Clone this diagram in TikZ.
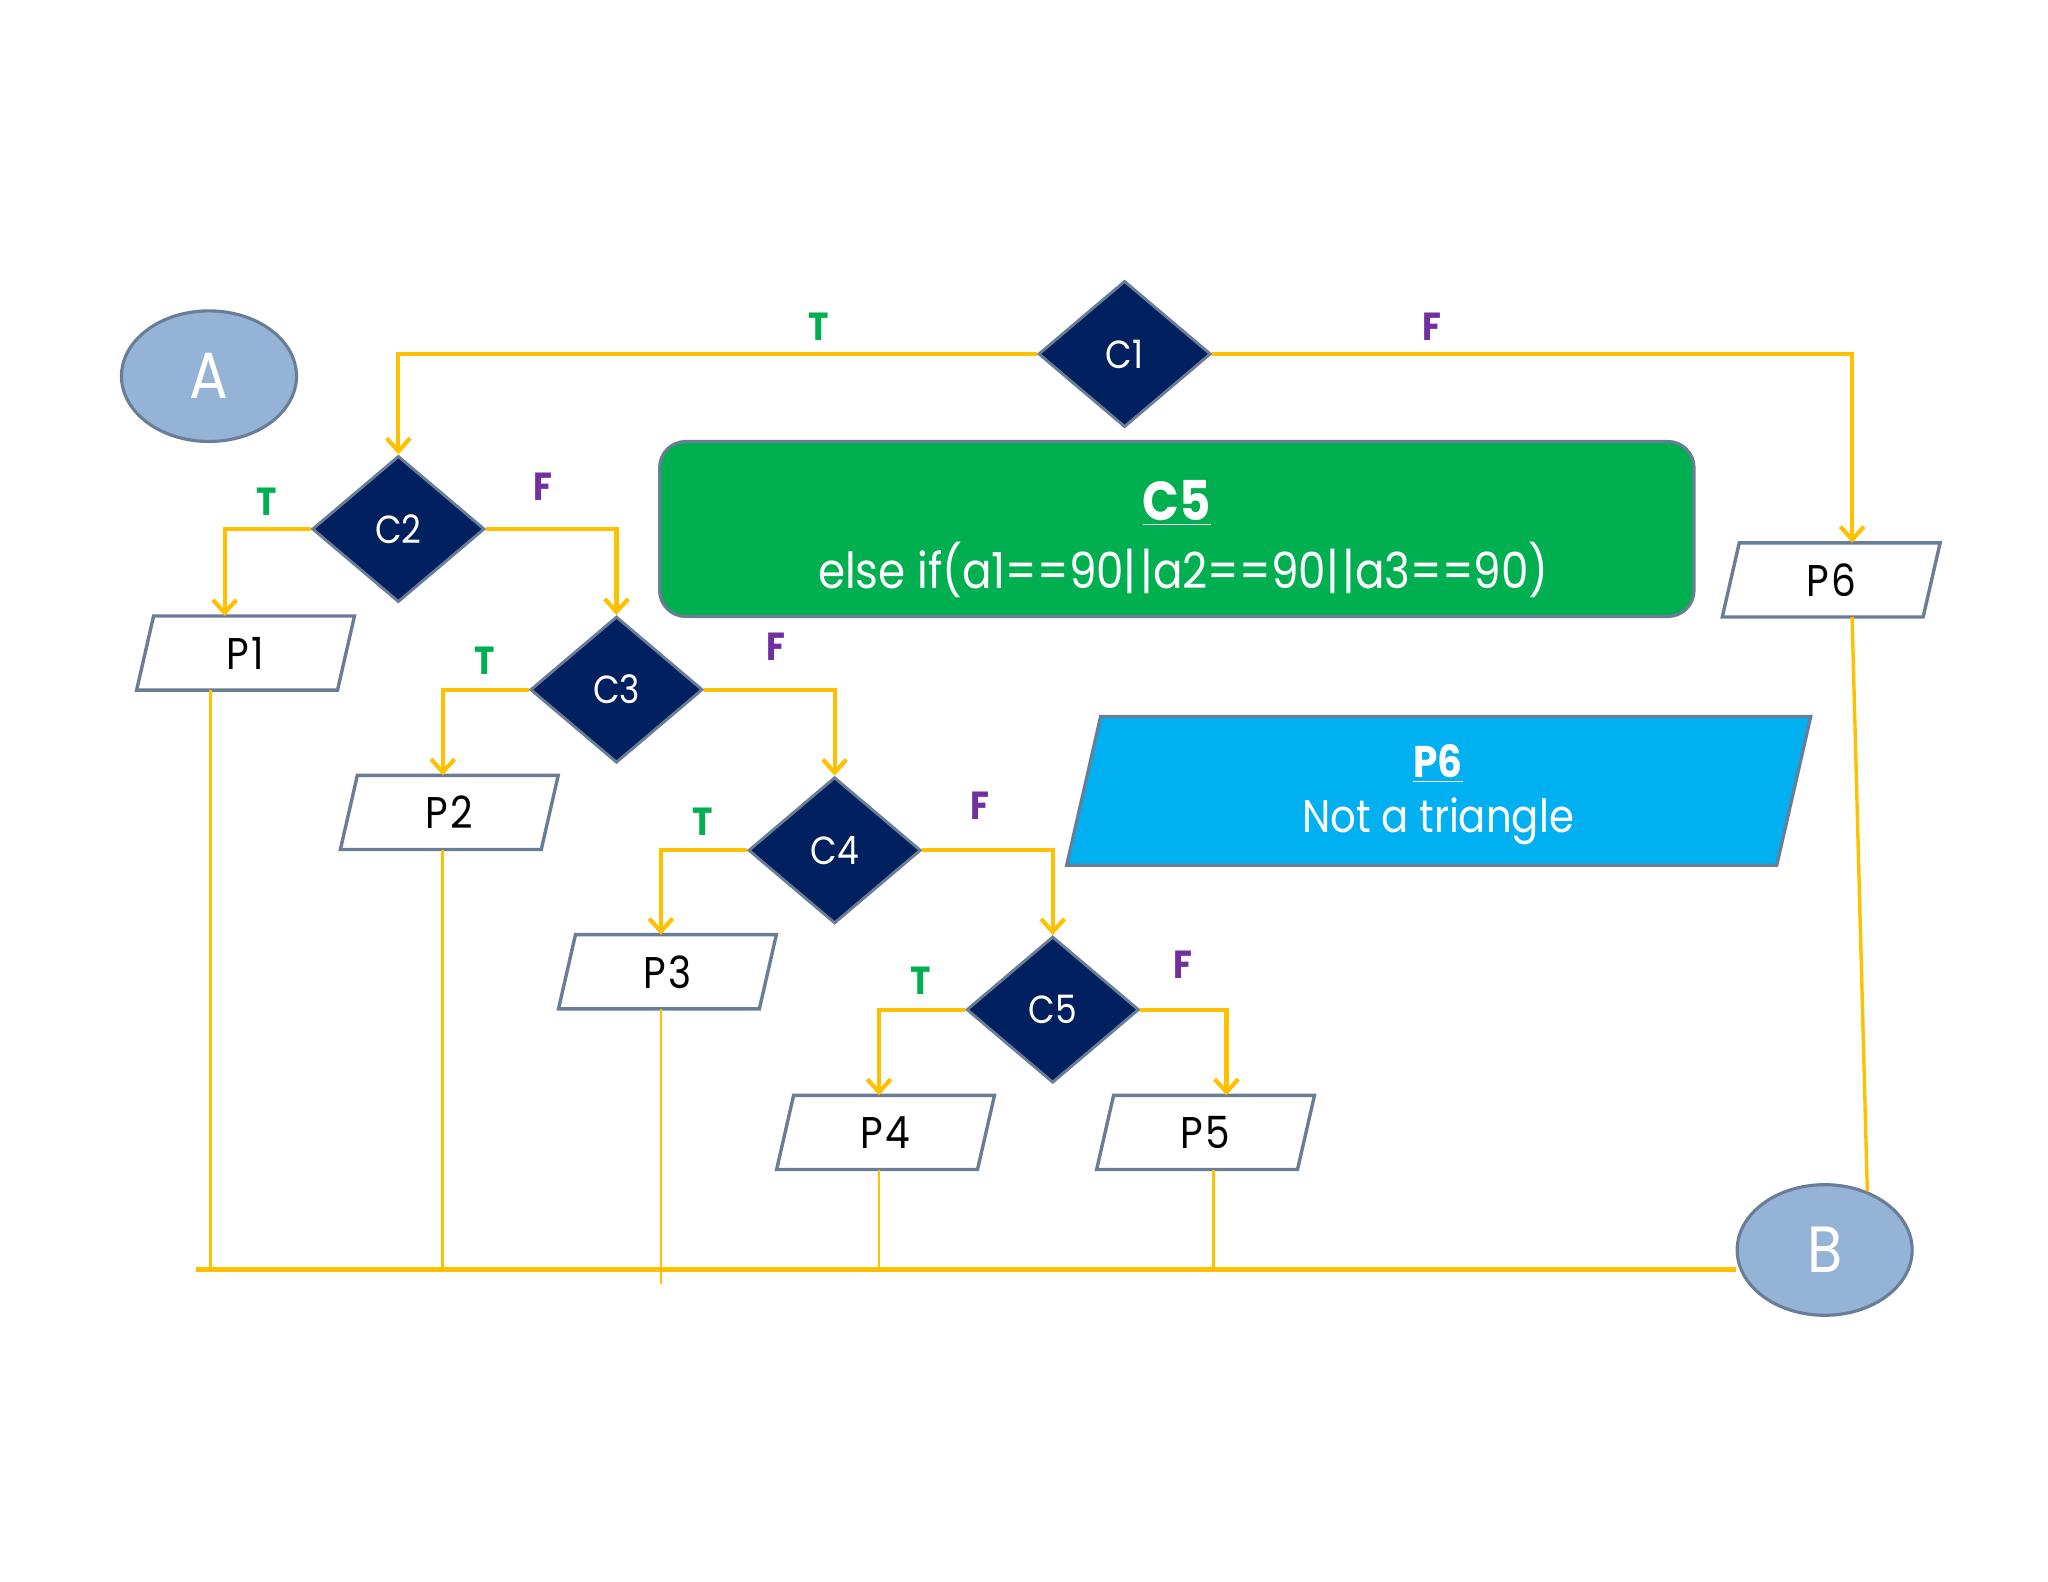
\documentclass[tikz,border=0pt]{standalone}
\usepackage{fontspec}
\setmainfont{Poppins}[FakeStretch=0.88]
\usetikzlibrary{shapes.geometric,arrows.meta}
\definecolor{gold}{HTML}{FFC000}
\definecolor{navy}{HTML}{002060}
\definecolor{edge}{HTML}{6A7D96}
\definecolor{bub}{HTML}{95B3D7}
\definecolor{tgreen}{HTML}{00B050}
\definecolor{fpurple}{HTML}{7030A0}
\definecolor{boxgreen}{HTML}{00B050}
\definecolor{boxblue}{HTML}{00B0F0}
\newcommand{\orbar}{|\kern1.5pt|}
\newcommand{\parashape}[3]{% node name, slant offset, style
  \path[#3] ([xshift=#2]#1.north west) -- (#1.north east) -- ([xshift=-#2]#1.south east) -- (#1.south west) -- cycle;}
\begin{document}
\begin{tikzpicture}[x=0.5pt,y=-0.5pt,
  dec/.style={diamond, fill=navy, draw=edge, line width=1.1pt, minimum width=66pt, minimum height=56pt, inner sep=0pt, text=white, font=\fontsize{15}{15}\selectfont},
  pbox/.style={rectangle, inner sep=0pt, minimum width=83pt, minimum height=28pt},
  pshape/.style={draw=edge, line width=1.3pt, fill=white, line join=miter},
  ptext/.style={font=\fontsize{17}{17}\selectfont, inner sep=0pt},
  conn/.style={ellipse, fill=bub, draw=edge, line width=1.2pt, minimum width=67pt, minimum height=50pt, inner sep=0pt, text=white, font=\fontsize{25}{25}\selectfont},
  flow/.style={draw=gold, line width=1.6pt, -{Straight Barb[length=5pt,width=9pt]}},
  joinline/.style={draw=gold, line width=1pt},
  busline/.style={draw=gold, line width=1.8pt},
  tl/.style={text=tgreen, font=\bfseries\fontsize{15}{15}\selectfont},
  fl/.style={text=fpurple, font=\bfseries\fontsize{15}{15}\selectfont},
]
\useasboundingbox (0,0) rectangle (1568,1211);
% connectors A and B
\node[conn] (A) at (160,288) {A};
\node[conn] (B) at (1397,957) {B};
% decisions
\node[dec] (C1) at (861,271) {C1};
\node[dec] (C2) at (305,405) {C2};
\node[dec] (C3) at (472,528) {C3};
\node[dec] (C4) at (639,651) {C4};
\node[dec] (C5) at (806,773) {C5};
% processes
\node[pbox] (P1) at (188,500) {};
\node[pbox] (P2) at (344,622) {};
\node[pbox] (P3) at (511,744) {};
\node[pbox] (P4) at (678,867) {};
\node[pbox] (P5) at (923,867) {};
\node[pbox] (P6) at (1402,444) {};
\parashape{P1}{6.5pt}{pshape}
\parashape{P2}{6.5pt}{pshape}
\parashape{P3}{6.5pt}{pshape}
\parashape{P4}{6.5pt}{pshape}
\parashape{P5}{6.5pt}{pshape}
\parashape{P6}{6.5pt}{pshape}
\node[ptext] (P1t) at (P1.center) {P\kern1pt1};
\node[ptext] (P2t) at (P2.center) {P\kern1pt2};
\node[ptext] (P3t) at (P3.center) {P\kern1pt3};
\node[ptext] (P4t) at (P4.center) {P\kern1pt4};
\node[ptext] (P5t) at (P5.center) {P\kern1pt5};
\node[ptext] (P6t) at (P6.center) {P\kern1pt6};
% info boxes
\node[rectangle, rounded corners=10pt, fill=boxgreen, draw=edge, line width=1.2pt, minimum width=396pt, minimum height=67pt] (GB) at (901,405) {};
\node[text=white, font=\bfseries\fontsize{21}{21}\selectfont] (GBt) at (901,385) {\underline{C5}};
\node[text=white, font=\fontsize{19}{19}\selectfont] (GBb) at (906,436) {else if(a1==90\orbar a2==90\orbar a3==90)};
\node[rectangle, inner sep=0pt, minimum width=284.5pt, minimum height=56.5pt] (BB) at (1101.5,605.5) {};
\parashape{BB}{13pt}{fill=boxblue, draw=edge, line width=1.2pt}
\node[text=white, font=\bfseries\fontsize{17}{17}\selectfont] (BBt) at (1101,585) {\underline{P6}};
\node[text=white, font=\fontsize{17.5}{17.5}\selectfont] (BBb) at (1101,629) {Not a triangle};
% T / F labels
\node[tl] (T1) at (627,250) {T};
\node[fl] (F1) at (1096,250) {F};
\node[tl] (T2) at (204,384) {T};
\node[fl] (F2) at (416,373) {F};
\node[tl] (T3) at (371,506) {T};
\node[fl] (F3) at (594,495) {F};
\node[tl] (T4) at (538,629) {T};
\node[fl] (F4) at (750,617) {F};
\node[tl] (T5) at (705,751) {T};
\node[fl] (F5) at (906,739) {F};
% arrow targets
\path ([xshift=-8pt]P1.north) coordinate (p1t)
      ([xshift=-2.5pt]P2.north) coordinate (p2t)
      ([xshift=-2.5pt]P3.north) coordinate (p3t)
      ([xshift=-2.5pt]P4.north) coordinate (p4t)
      ([xshift=8pt]P5.north) coordinate (p5t)
      ([xshift=8pt]P6.north) coordinate (p6t);
\draw[flow] (C1.west) -| (C2.north);
\draw[flow] (C1.east) -| (p6t);
\draw[flow] (C2.west) -| (p1t);
\draw[flow] (C2.east) -| (C3.north);
\draw[flow] (C3.west) -| (p2t);
\draw[flow] (C3.east) -| (C4.north);
\draw[flow] (C4.west) -| (p3t);
\draw[flow] (C4.east) -| (C5.north);
\draw[flow] (C5.west) -| (p4t);
\draw[flow] (C5.east) -| (p5t);
% bottom collector
\coordinate (busL) at (150,972);
\path ([xshift=-13.5pt]P1.south) coordinate (q1)
      ([xshift=-2.5pt]P2.south) coordinate (q2)
      ([xshift=-2.5pt]P3.south) coordinate (q3)
      ([xshift=-2.5pt]P4.south) coordinate (q4)
      ([xshift=3pt]P5.south) coordinate (q5)
      ([xshift=8pt]P6.south) coordinate (q6);
\coordinate (q3end) at (506,983);
\draw[joinline] (q1) -- (q1 |- busL);
\draw[joinline] (q2) -- (q2 |- busL);
\draw[joinline] (q3) -- (q3end);
\draw[joinline] (q4) -- (q4 |- busL);
\draw[joinline] (q5) -- (q5 |- busL);
\draw[joinline, line width=1.3pt] (q6) -- (B.54);
\draw[busline] (busL) -- (busL -| B.west);
\end{tikzpicture}
\end{document}
